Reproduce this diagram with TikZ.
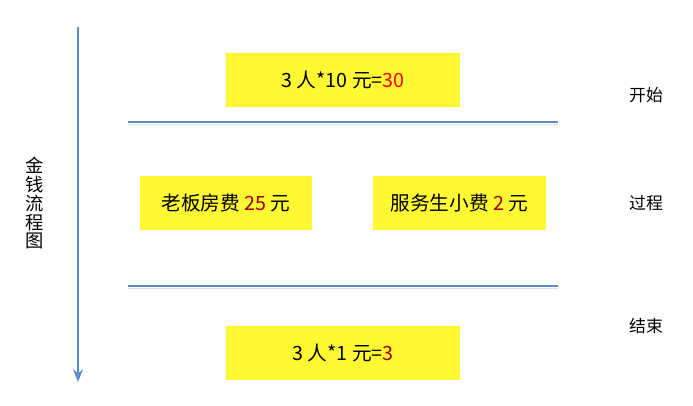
\documentclass[tikz,border=0pt]{standalone}
\usepackage{fontspec}
\setmainfont{Noto Sans CJK SC}
\usepackage{xcolor}
\usetikzlibrary{arrows.meta, positioning}

\definecolor{boxyellow}{HTML}{FFF933}
\definecolor{lineblue}{HTML}{5B8DC9}
\definecolor{darkred}{HTML}{A00000}

\tikzset{
  money/.style={fill=boxyellow, minimum height=54*0.025cm, inner sep=0pt,
    font=\fontsize{14}{16}\selectfont},
  stage/.style={font=\fontsize{12}{14}\selectfont},
  divider/.style={draw=lineblue, line width=1.6pt},
  shadowline/.style={draw=black!12, line width=1.2pt}
}

\begin{document}
\begin{tikzpicture}[x=0.025cm, y=-0.025cm]
          \useasboundingbox (0,0) rectangle (693,406);

          \node[money, minimum width=234*0.025cm] (start) at (343,80) {3 人*10 元=\textcolor{red}{30}};
          \node[money, minimum width=172*0.025cm] (boss) at (226,203) {老板房费 \textcolor{darkred}{25} 元};
          \node[money, minimum width=173*0.025cm] (waiter) at (459.5,203) {服务生小费 \textcolor{darkred}{2} 元};
          \node[money, minimum width=234*0.025cm] (end) at (343,353) {3 人*1 元=\textcolor{darkred}{3}};

          \node[stage] (kaishi) at (646,95) {开始};
          \node[stage] (guocheng) at (646,203) {过程};
          \node[stage] (jieshu) at (646,326) {结束};

          \node[font=\fontsize{13}{13.5}\selectfont, align=center, inner sep=0pt] (title) at (35,203) {金\\钱\\流\\程\\图};

          \coordinate (top) at (78,27);
          \coordinate (bottom) at (78,382);
          \coordinate (l1a) at (128,122);
          \coordinate (l1b) at (558,122);
          \coordinate (l2a) at (128,286);
          \coordinate (l2b) at (558,286);

          \draw[shadowline] ([yshift=-2.5*0.025cm]l1a) -- ([yshift=-2.5*0.025cm]l1b);
          \draw[shadowline] ([yshift=-2.5*0.025cm]l2a) -- ([yshift=-2.5*0.025cm]l2b);
          \draw[divider] (l1a) -- (l1b);
          \draw[divider] (l2a) -- (l2b);

          \draw[lineblue, line width=1.8pt, -{Stealth[length=9pt, width=7pt, inset=3pt]}] (top) -- (bottom);
        \end{tikzpicture}
\end{document}
